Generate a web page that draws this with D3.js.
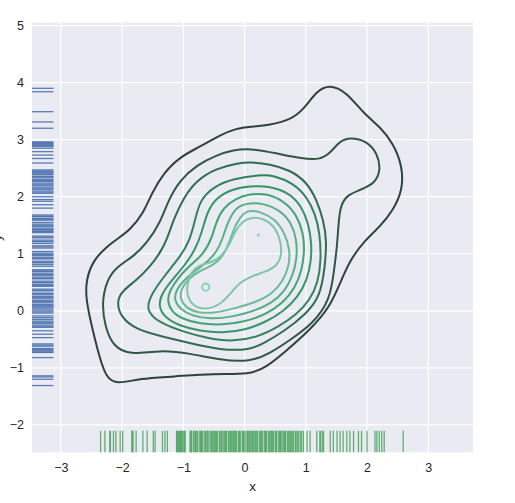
<!DOCTYPE html>
<html>
<head>
<meta charset="utf-8">
<script src="https://cdn.jsdelivr.net/npm/d3@7"></script>
<style>
  body { margin: 0; background: #fff; }
  svg text { font-family: "Liberation Sans", Arial, sans-serif; fill: #262626; }
</style>
</head>
<body>
<script>
// ticks
const xTicks = [-3, -2, -1, 0, 1, 2, 3]
const yTicks = [-2, -1, 0, 1, 2, 3, 4, 5]

// rug samples
const xRug = [-2.35, -2.28, -2.20, -2.19, -2.14, -2.10, -2.03, -1.99, -1.84, -1.83, -1.82, -1.77, -1.66, -1.59,
  -1.49, -1.46, -1.34, -1.30, -1.26, -1.11, -1.10, -1.09, -1.08, -1.06, -1.05, -1.04, -1.03, -1.01, -0.99, -0.98,
  -0.97, -0.89, -0.88, -0.87, -0.86, -0.83, -0.81, -0.80, -0.79, -0.77, -0.74, -0.72, -0.71, -0.70, -0.69, -0.66,
  -0.64, -0.63, -0.61, -0.60, -0.58, -0.55, -0.54, -0.52, -0.50, -0.49, -0.47, -0.46, -0.44, -0.41, -0.40, -0.38,
  -0.37, -0.35, -0.33, -0.31, -0.30, -0.29, -0.26, -0.24, -0.23, -0.21, -0.19, -0.18, -0.16, -0.15, -0.13, -0.10,
  -0.09, -0.08, -0.06, -0.03, -0.02, -0.01, 0.01, 0.04, 0.05, 0.06, 0.08, 0.10, 0.12, 0.13, 0.15, 0.17, 0.18,
  0.20, 0.21, 0.24, 0.26, 0.27, 0.28, 0.30, 0.33, 0.34, 0.35, 0.36, 0.39, 0.41, 0.43, 0.44, 0.46, 0.47, 0.50,
  0.51, 0.52, 0.55, 0.57, 0.58, 0.59, 0.61, 0.63, 0.65, 0.66, 0.67, 0.70, 0.72, 0.74, 0.75, 0.77, 0.79, 0.80,
  0.83, 0.84, 0.86, 0.88, 0.91, 0.93, 0.96, 1.02, 1.07, 1.18, 1.23, 1.24, 1.27, 1.29, 1.40, 1.45, 1.51, 1.56,
  1.61, 1.67, 1.72, 1.78, 1.86, 1.91, 2.00, 2.13, 2.16, 2.20, 2.24, 2.28, 2.59]
const yRug = [3.90, 3.84, 3.49, 3.31, 3.20, 2.96, 2.95, 2.93, 2.91, 2.90, 2.88, 2.85, 2.79, 2.73, 2.67, 2.59,
  2.47, 2.45, 2.44, 2.42, 2.40, 2.39, 2.36, 2.35, 2.33, 2.30, 2.28, 2.27, 2.24, 2.22, 2.20, 2.17, 2.15, 2.13,
  2.10, 2.08, 2.06, 2.00, 1.95, 1.92, 1.86, 1.80, 1.68, 1.66, 1.65, 1.62, 1.60, 1.59, 1.55, 1.52, 1.50, 1.48,
  1.45, 1.43, 1.42, 1.40, 1.39, 1.37, 1.31, 1.29, 1.28, 1.24, 1.22, 1.21, 1.18, 1.14, 1.12, 1.10, 1.04, 1.01,
  0.99, 0.97, 0.94, 0.92, 0.91, 0.87, 0.85, 0.84, 0.81, 0.78, 0.72, 0.70, 0.69, 0.66, 0.64, 0.62, 0.59, 0.57,
  0.56, 0.52, 0.50, 0.49, 0.46, 0.44, 0.43, 0.38, 0.36, 0.35, 0.31, 0.30, 0.28, 0.25, 0.23, 0.21, 0.18, 0.16,
  0.14, 0.11, 0.09, 0.07, 0.05, 0.03, 0.00, -0.02, -0.04, -0.09, -0.12, -0.15, -0.18, -0.20, -0.22, -0.25,
  -0.27, -0.29, -0.35, -0.41, -0.47, -0.58, -0.60, -0.62, -0.66, -0.68, -0.70, -0.72, -0.73, -0.82, -1.14,
  -1.16, -1.20, -1.31]

// kde contour lines, outermost first (data units)
const contour1 = [[-2.087,1.253],[-1.869,1.416],[-1.652,1.709],[-1.515,2.060],[-1.326,2.410],[-1.053,2.701],
  [-0.727,2.876],[-0.400,3.081],[-0.127,3.199],[0.090,3.227],[0.416,3.257],[0.743,3.344],[0.960,3.520],
  [1.179,3.860],[1.396,3.970],[1.669,3.830],[1.940,3.462],[2.212,3.227],[2.429,2.936],[2.580,2.526],
  [2.580,2.117],[2.429,1.767],[2.212,1.474],[1.967,1.241],[1.722,0.890],[1.559,0.482],[1.396,0.072],
  [1.069,-0.337],[0.633,-0.745],[0.362,-0.980],[0.090,-1.125],[-0.509,-1.096],[-1.162,-1.155],
  [-1.706,-1.183],[-2.087,-1.290],[-2.260,-1.170],[-2.370,-0.805],[-2.480,-0.337],[-2.590,0.189],
  [-2.590,0.540],[-2.469,0.890],[-2.250,1.124]]
const contour2 = [[-1.597,1.183],[-1.380,1.534],[-1.244,1.942],[-1.053,2.293],[-0.780,2.556],[-0.454,2.731],
  [-0.183,2.819],[0.090,2.848],[0.526,2.761],[0.906,2.673],[1.233,2.643],[1.396,2.761],[1.559,2.980],
  [1.722,3.040],[1.995,2.980],[2.170,2.761],[2.225,2.468],[2.131,2.235],[1.886,2.117],[1.669,2.030],
  [1.559,1.825],[1.531,1.474],[1.505,1.066],[1.461,0.715],[1.396,0.189],[1.123,-0.219],[0.743,-0.512],
  [0.416,-0.745],[0.090,-0.897],[-0.400,-0.862],[-0.890,-0.745],[-1.380,-0.687],[-1.869,-0.775],
  [-2.142,-0.629],[-2.278,-0.279],[-2.332,0.131],[-2.250,0.540],[-2.087,0.773],[-1.816,0.948]]
const contour3 = [[-1.270,1.241],[-1.162,1.592],[-0.999,1.977],[-0.780,2.293],[-0.454,2.498],[-0.127,2.585],
  [0.090,2.608],[0.416,2.573],[0.743,2.468],[1.016,2.258],[1.179,1.942],[1.287,1.592],[1.342,1.241],
  [1.314,0.773],[1.233,0.247],[1.016,-0.044],[0.633,-0.372],[0.307,-0.570],[0.090,-0.687],[-0.400,-0.687],
  [-0.890,-0.570],[-1.326,-0.454],[-1.760,-0.337],[-2.033,-0.103],[-2.087,0.189],[-1.979,0.365],
  [-1.760,0.540],[-1.543,0.773],[-1.380,1.013]]
const contour4 = [[-1.625,0.014],[-1.510,0.312],[-1.298,0.628],[-1.053,0.943],[-0.890,1.241],[-0.808,1.592],
  [-0.727,1.942],[-0.509,2.175],[-0.183,2.322],[0.253,2.380],[0.470,2.380],[0.797,2.235],[1.016,2.000],
  [1.151,1.709],[1.233,1.358],[1.249,0.855],[1.200,0.505],[1.069,0.189],[0.841,-0.074],[0.547,-0.284],
  [0.220,-0.459],[-0.183,-0.542],[-0.617,-0.482],[-1.000,-0.366],[-1.380,-0.219]]
const contour5 = [[0.090,2.188],[0.416,2.188],[0.743,2.060],[0.934,1.825],[1.042,1.534],[1.097,1.183],
  [1.086,0.855],[1.020,0.540],[0.873,0.247],[0.645,-0.004],[0.351,-0.196],[0.008,-0.337],[-0.367,-0.389],
  [-0.727,-0.354],[-1.053,-0.266],[-1.298,-0.126],[-1.412,0.084],[-1.347,0.312],[-1.184,0.540],
  [-0.971,0.803],[-0.808,1.066],[-0.694,1.381],[-0.612,1.732],[-0.465,1.977],[-0.204,2.135]]
const contour6 = [[0.090,2.047],[0.362,2.060],[0.661,1.912],[0.852,1.679],[0.960,1.358],[0.980,1.066],
  [0.939,0.715],[0.825,0.400],[0.629,0.137],[0.335,-0.074],[-0.008,-0.196],[-0.367,-0.249],[-0.727,-0.231],
  [-1.020,-0.144],[-1.200,-0.004],[-1.265,0.189],[-1.216,0.365],[-1.086,0.575],[-0.890,0.803],
  [-0.678,0.978],[-0.531,1.276],[-0.465,1.557],[-0.351,1.802],[-0.139,1.977]]
const contour7 = [[0.090,1.889],[0.307,1.884],[0.580,1.767],[0.771,1.534],[0.852,1.241],[0.857,0.925],
  [0.792,0.628],[0.661,0.347],[0.449,0.137],[0.155,-0.004],[-0.204,-0.109],[-0.563,-0.144],[-0.857,-0.091],
  [-1.053,0.032],[-1.151,0.189],[-1.118,0.365],[-0.988,0.540],[-0.792,0.715],[-0.563,0.890],[-0.400,1.124],
  [-0.318,1.416],[-0.209,1.709],[-0.073,1.854]]
const contour8 = [[0.090,1.760],[0.253,1.740],[0.498,1.610],[0.661,1.358],[0.743,1.066],[0.727,0.785],
  [0.629,0.522],[0.449,0.294],[0.188,0.154],[-0.139,0.049],[-0.482,-0.039],[-0.759,-0.039],[-0.955,0.049],
  [-1.053,0.207],[-1.037,0.382],[-0.922,0.557],[-0.743,0.698],[-0.531,0.785],[-0.346,0.948],[-0.237,1.241],
  [-0.127,1.560],[-0.008,1.720]]
const contour9 = [[0.122,1.640],[0.300,1.620],[0.480,1.500],[0.590,1.241],[0.610,0.978],[0.530,0.785],
  [0.335,0.680],[0.122,0.610],[-0.073,0.505],[-0.237,0.294],[-0.400,0.102],[-0.645,0.014],[-0.841,0.084],
  [-0.939,0.259],[-0.939,0.470],[-0.873,0.680],[-0.743,0.803],[-0.563,0.838],[-0.400,0.925],[-0.253,1.136],
  [-0.155,1.400],[-0.024,1.580]]
const contour10a = [[-0.569,0.417],[-0.588,0.467],[-0.634,0.487],[-0.680,0.467],[-0.699,0.417],[-0.680,0.367],
  [-0.634,0.347],[-0.588,0.367]]
const contour10b = [[0.240,1.329],[0.225,1.343],[0.210,1.329],[0.225,1.315]]

const contours = [
  {level: 1, pts: contour1}, {level: 2, pts: contour2}, {level: 3, pts: contour3},
  {level: 4, pts: contour4}, {level: 5, pts: contour5}, {level: 6, pts: contour6},
  {level: 7, pts: contour7}, {level: 8, pts: contour8}, {level: 9, pts: contour9},
  {level: 10, pts: contour10a}, {level: 10, pts: contour10b}
]

const width = 515, height = 503
const plot = {left: 32, right: 473, top: 22.7, bottom: 452.3}

const svg = d3.select('body').append('svg')
  .attr('width', width)
  .attr('height', height)

let x = d3.scaleLinear().domain([-3.47, 3.73]).range([plot.left, plot.right])
let y = d3.scaleLinear().domain([-2.48, 5.05]).range([plot.bottom, plot.top])

// BuGn_d style colormap
const cmap = d3.piecewise(d3.interpolateRgb, ['#2c2e33', '#36a068', '#a8dccd'])

svg.append('rect')
  .attr('x', plot.left).attr('y', plot.top)
  .attr('width', plot.right - plot.left)
  .attr('height', plot.bottom - plot.top)
  .attr('fill', '#eaeaf2')

// grid
svg.append('g').selectAll('line')
  .data(xTicks).enter().append('line')
  .attr('x1', d => x(d)).attr('x2', d => x(d))
  .attr('y1', plot.top).attr('y2', plot.bottom)
  .attr('stroke', '#fff').attr('stroke-width', 1.2)
svg.append('g').selectAll('line')
  .data(yTicks).enter().append('line')
  .attr('y1', d => y(d)).attr('y2', d => y(d))
  .attr('x1', plot.left).attr('x2', plot.right)
  .attr('stroke', '#fff').attr('stroke-width', 1.2)

// contours
let line = d3.line()
  .x(d => x(d[0]))
  .y(d => y(d[1]))
  .curve(d3.curveBasisClosed)

svg.append('g').selectAll('path')
  .data(contours).enter().append('path')
  .attr('d', d => line(d.pts))
  .attr('fill', 'none')
  .attr('stroke', d => cmap(d.level / 11))
  .attr('stroke-width', 2)

// rugs
const rugLen = 21.5
svg.append('g').selectAll('line')
  .data(xRug).enter().append('line')
  .attr('x1', d => x(d)).attr('x2', d => x(d))
  .attr('y1', plot.bottom).attr('y2', plot.bottom - rugLen)
  .attr('stroke', '#55a868').attr('stroke-width', 1.3).attr('opacity', 0.9)
svg.append('g').selectAll('line')
  .data(yRug).enter().append('line')
  .attr('y1', d => y(d)).attr('y2', d => y(d))
  .attr('x1', plot.left).attr('x2', plot.left + rugLen)
  .attr('stroke', '#4c72b0').attr('stroke-width', 1.3).attr('opacity', 0.9)

// axes (labels only, seaborn darkgrid has no spines)
let xAxis = svg.append('g')
  .attr('transform', `translate(0,${plot.bottom})`)
  .call(d3.axisBottom(x).tickValues(xTicks).tickSize(0).tickPadding(11).tickFormat(d3.format('d')))
let yAxis = svg.append('g')
  .attr('transform', `translate(${plot.left},0)`)
  .call(d3.axisLeft(y).tickValues(yTicks).tickSize(0).tickPadding(8).tickFormat(d3.format('d')))
;[xAxis, yAxis].forEach(a => {
  a.select('.domain').remove()
  a.selectAll('text').style('font-size', '12.5px').attr('fill', '#262626')
    .style('font-family', '"Liberation Sans", Arial, sans-serif')
})

svg.append('text')
  .attr('x', (plot.left + plot.right) / 2).attr('y', 491)
  .attr('text-anchor', 'middle')
  .style('font-size', '13.5px')
  .text('x')
// y label sits mostly off the left edge, as in the source image
svg.append('text')
  .attr('transform', `translate(1,${(plot.top + plot.bottom) / 2}) rotate(-90)`)
  .attr('text-anchor', 'middle')
  .style('font-size', '13.5px')
  .text('y')
</script>
</body>
</html>
